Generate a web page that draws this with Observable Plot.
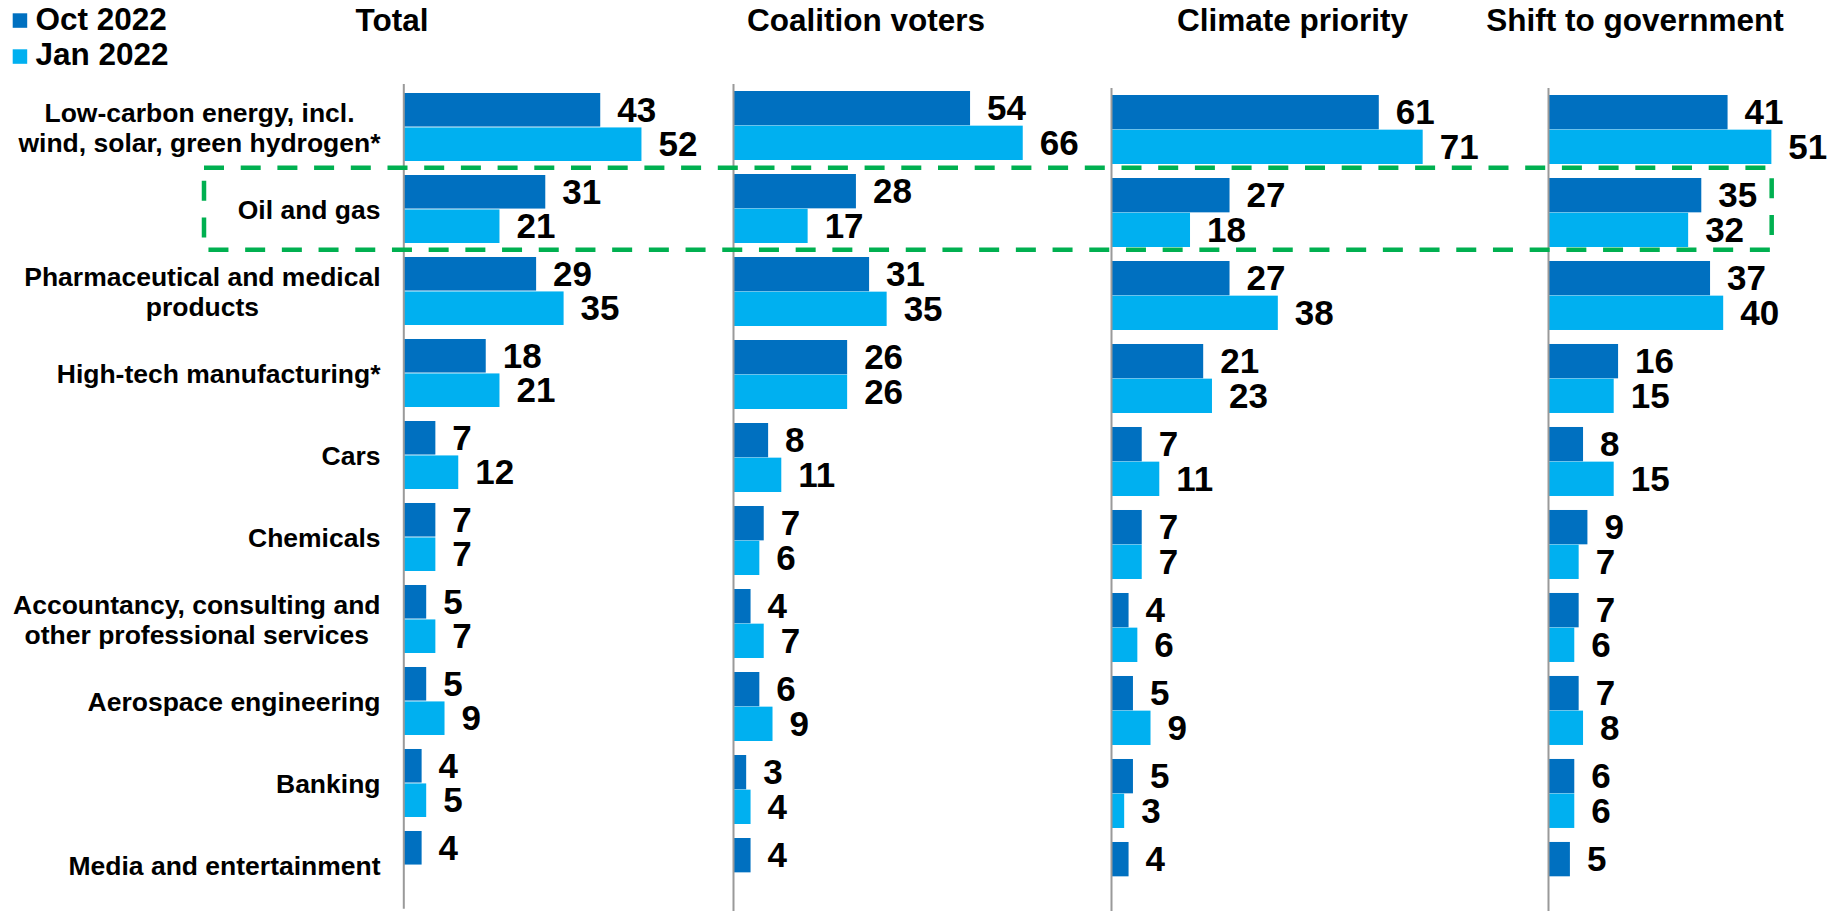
<!DOCTYPE html>
<html>
<head>
<meta charset="utf-8">
<script src="https://cdn.jsdelivr.net/npm/d3@7"></script>
<script src="https://cdn.jsdelivr.net/npm/@observablehq/plot@0.6"></script>
<style>
  html, body { margin: 0; padding: 0; background: #fff; overflow: hidden; }
  #chart { position: relative; width: 1839px; height: 911px; overflow: hidden;
           font-family: Arial, "Liberation Sans", sans-serif; }
  .panel { position: absolute; }
  #overlay { position: absolute; left: 0; top: 0; pointer-events: none; }
</style>
</head>
<body>
<div id="chart"></div>
<script>
// ---------- data ----------
const categories = [
  "Low-carbon energy, incl.\nwind, solar, green hydrogen*",
  "Oil and gas",
  "Pharmaceutical and medical\nproducts",
  "High-tech manufacturing*",
  "Cars",
  "Chemicals",
  "Accountancy, consulting and\nother professional services",
  "Aerospace engineering",
  "Banking",
  "Media and entertainment"
];
const series = ["Oct 2022", "Jan 2022"];
const panels = ["Total", "Coalition voters", "Climate priority", "Shift to government"];

const octTotal     = [43, 31, 29, 18, 7, 7, 5, 5, 4, 4];
const janTotal     = [52, 21, 35, 21, 12, 7, 7, 9, 5, null];
const octCoalition = [54, 28, 31, 26, 8, 7, 4, 6, 3, 4];
const janCoalition = [66, 17, 35, 26, 11, 6, 7, 9, 4, null];
const octClimate   = [61, 27, 27, 21, 7, 7, 4, 5, 5, 4];
const janClimate   = [71, 18, 38, 23, 11, 7, 6, 9, 3, null];
const octShift     = [41, 35, 37, 16, 8, 9, 7, 7, 6, 5];
const janShift     = [51, 32, 40, 15, 15, 7, 6, 8, 6, null];

const highlight = "Oil and gas";
const colors = ["#0070C0", "#00B0F0"];

// ---------- layout ----------
const FONT = 'Arial, "Liberation Sans", sans-serif';
const W = 1839, H = 911;
const PAD_INNER = 0.165;
const panelValues = [
  [octTotal, janTotal],
  [octCoalition, janCoalition],
  [octClimate, janClimate],
  [octShift, janShift]
];
const layout = [
  {axis: 403.3,  end: 733,    ppu: 4.58, top: 83.8, step: 82.47, title: 392},
  {axis: 733,    end: 1110.5, ppu: 4.39, top: 84.2, step: 83,    title: 866},
  {axis: 1110.5, end: 1548.3, ppu: 4.39, top: 87.5, step: 83,    title: 1292.5},
  {axis: 1548.3, end: W,      ppu: 4.38, top: 87.5, step: 83,    title: 1635}
];

const chart = document.getElementById("chart");
const plots = [];
const lefts = [];

panels.forEach((name, i) => {
  const L = layout[i];
  const first = i === 0;
  const mL = first ? L.axis : 4;
  const left = L.axis - mL;
  const width = L.end - left;
  const rangeH = categories.length * L.step;
  const height = Math.max(H - L.top, rangeH);
  const bw = L.step * (1 - PAD_INNER);
  const [oct, jan] = panelValues[i];
  const rows = categories.map((c, j) => ({category: c, oct: oct[j], jan: jan[j]}));
  const octRows = rows.filter(d => d.oct != null);
  const janRows = rows.filter(d => d.jan != null);

  const marks = [
    Plot.barX(octRows, {x: "oct", y: "category", fill: colors[0], insetBottom: bw / 2}),
    Plot.barX(janRows, {x: "jan", y: "category", fill: colors[1], insetTop: bw / 2}),
    Plot.ruleX([0], {stroke: "#9a9a9a", strokeWidth: 2}),
    Plot.text(octRows, {x: "oct", y: "category", text: d => String(d.oct), dx: 16.5, dy: -bw / 4 + 0.5,
      textAnchor: "start", fontSize: 35, fontWeight: "bold", fill: "#000"}),
    Plot.text(janRows, {x: "jan", y: "category", text: d => String(d.jan), dx: 16.5, dy: bw / 4 + 0.5,
      textAnchor: "start", fontSize: 35, fontWeight: "bold", fill: "#000"})
  ];
  if (first) {
    marks.push(Plot.text(categories, {y: d => d, text: d => d, frameAnchor: "left", textAnchor: "end",
      dx: -23.3, fontSize: 26.5, fontWeight: "bold", lineHeight: 1.12, fill: "#000"}));
  }

  const plot = Plot.plot({
    width, height,
    marginLeft: mL, marginRight: 0, marginTop: 0, marginBottom: height - rangeH,
    x: {domain: [0, (width - mL) / L.ppu], axis: null},
    y: {domain: categories, paddingInner: PAD_INNER, paddingOuter: PAD_INNER / 2, axis: null},
    style: {fontFamily: FONT, background: "transparent", overflow: "visible", maxWidth: "none"},
    marks
  });

  const div = document.createElement("div");
  div.className = "panel";
  div.style.left = left + "px";
  div.style.top = L.top + "px";
  div.appendChild(plot);
  chart.appendChild(div);
  plots.push(plot);
  lefts.push(left);

  // centre the lines of multi-line labels inside their right-aligned block
  plot.querySelectorAll("text").forEach(t => {
    const ts = t.querySelectorAll("tspan");
    if (ts.length < 2) return;
    let w = 0;
    ts.forEach(s => { w = Math.max(w, s.getComputedTextLength()); });
    t.setAttribute("text-anchor", "middle");
    ts.forEach(s => s.setAttribute("x", -w / 2));
  });
});

// ---------- overlay: legend, titles, highlight box ----------
const svg = d3.select(chart).append("svg")
  .attr("id", "overlay").attr("width", W).attr("height", H)
  .style("font-family", FONT);

// legend
series.forEach((s, k) => {
  svg.append("rect").attr("x", 12.7).attr("y", 13.3 + k * 36).attr("width", 14.5).attr("height", 14.5)
    .attr("fill", colors[k]);
  svg.append("text").attr("x", 35.5).attr("y", 29.5 + k * 35)
    .attr("font-size", 31.5).attr("font-weight", "bold").attr("fill", "#000").text(s);
});

// titles
panels.forEach((name, i) => {
  svg.append("text").attr("x", layout[i].title).attr("y", 30.5).attr("text-anchor", "middle")
    .attr("font-size", 31.5).attr("font-weight", "bold").attr("fill", "#000").text(name);
});

// highlight box around the "Oil and gas" row
const yS = plots[0].scale("y");
const step0 = yS.step || layout[0].step;
const bw0 = yS.bandwidth || layout[0].step * (1 - PAD_INNER);
const rowTop = layout[0].top + yS.apply(highlight) - (step0 - bw0) / 2;
const xS = plots[3].scale("x");
const maxShift = d3.max([...octShift, ...janShift]);
const boxRight = lefts[3] + xS.apply(maxShift);
const boxLeft = 204;
svg.append("rect")
  .attr("x", boxLeft).attr("y", rowTop)
  .attr("width", boxRight - boxLeft).attr("height", step0)
  .attr("fill", "none").attr("stroke", "#00B050").attr("stroke-width", 4.5)
  .attr("stroke-dasharray", "20 16.7");
</script>
</body>
</html>
